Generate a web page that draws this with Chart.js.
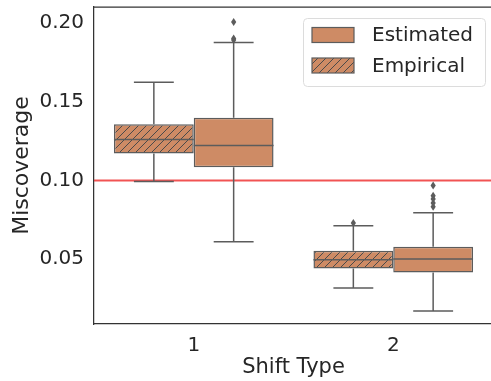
<!DOCTYPE html>
<html>
<head>
<meta charset="utf-8">
<script src="https://cdn.jsdelivr.net/npm/chart.js@4/dist/chart.umd.min.js"></script>
<style>
  html, body { margin: 0; padding: 0; background: #fff; overflow: hidden; }
  #wrap { width: 494px; height: 381px; }
</style>
</head>
<body>
<div id="wrap"><canvas id="chart" width="494" height="381"></canvas></div>
<script>
// Shift types on the x axis
const shiftTypes = ['1', '2'];

// Empirical miscoverage: box statistics per shift type
const empiricalQ1 = [0.1172, 0.0441];
const empiricalMedian = [0.1261, 0.0497];
const empiricalQ3 = [0.1357, 0.0554];
const empiricalLow = [0.0994, 0.0318];
const empiricalHigh = [0.1624, 0.0713];
const empiricalOutliers = [[], [0.0731]];

// Estimated miscoverage: box statistics per shift type
const estimatedQ1 = [0.1085, 0.0416];
const estimatedMedian = [0.1223, 0.0501];
const estimatedQ3 = [0.1399, 0.0580];
const estimatedLow = [0.0611, 0.0172];
const estimatedHigh = [0.1877, 0.0796];
const estimatedOutliers = [[0.1893, 0.1902, 0.2006], [0.0834, 0.0858, 0.0883, 0.0904, 0.0968]];

// Y axis ticks and the target miscoverage level
const yTicks = [0.05, 0.10, 0.15, 0.20];
const yTickLabels = ['0.05', '0.10', '0.15', '0.20'];
const targetLevel = 0.10;

const FILL = 'rgb(206,139,101)';
const EDGE = '#5c5c5c';
const TEXT = '#262626';
const FONT = "'DejaVu Sans', sans-serif";

// Diagonal hatch pattern for the empirical boxes
function hatchPattern() {
  const s = 8;
  const c = document.createElement('canvas');
  c.width = s; c.height = s;
  const g = c.getContext('2d');
  g.fillStyle = FILL;
  g.fillRect(0, 0, s, s);
  g.strokeStyle = '#4a4a4a';
  g.lineWidth = 1;
  g.beginPath();
  g.moveTo(0, s); g.lineTo(s, 0);
  g.moveTo(-s / 2, s / 2); g.lineTo(s / 2, -s / 2);
  g.moveTo(s / 2, s * 1.5); g.lineTo(s * 1.5, s / 2);
  g.stroke();
  return g.createPattern(c, 'repeat');
}
const hatch = hatchPattern();

const stats = [
  { q1: empiricalQ1, med: empiricalMedian, q3: empiricalQ3, lo: empiricalLow, hi: empiricalHigh, out: empiricalOutliers },
  { q1: estimatedQ1, med: estimatedMedian, q3: estimatedQ3, lo: estimatedLow, hi: estimatedHigh, out: estimatedOutliers }
];

// Horizontal reference line at the target level, under the boxes
const targetLine = {
  id: 'targetLine',
  beforeDatasetsDraw(chart) {
    const { ctx, chartArea, scales: { y } } = chart;
    const py = y.getPixelForValue(targetLevel);
    ctx.save();
    ctx.strokeStyle = 'rgba(238,40,40,0.8)';
    ctx.lineWidth = 2;
    ctx.beginPath();
    ctx.moveTo(chartArea.left, py);
    ctx.lineTo(chartArea.right, py);
    ctx.stroke();
    ctx.restore();
  }
};

// Whiskers, caps, medians and outlier diamonds on top of the bars
const boxParts = {
  id: 'boxParts',
  afterDatasetsDraw(chart) {
    const { ctx, scales: { y } } = chart;
    ctx.save();
    ctx.strokeStyle = EDGE;
    ctx.fillStyle = EDGE;
    ctx.lineWidth = 1.5;
    stats.forEach((s, di) => {
      const meta = chart.getDatasetMeta(di);
      meta.data.forEach((bar, i) => {
        const cx = bar.x;
        const half = bar.width / 2;
        const cap = bar.width / 4;
        const pq1 = y.getPixelForValue(s.q1[i]);
        const pq3 = y.getPixelForValue(s.q3[i]);
        const plo = y.getPixelForValue(s.lo[i]);
        const phi = y.getPixelForValue(s.hi[i]);
        const pmed = y.getPixelForValue(s.med[i]);
        ctx.beginPath();
        ctx.moveTo(cx, pq1); ctx.lineTo(cx, plo);
        ctx.moveTo(cx, pq3); ctx.lineTo(cx, phi);
        ctx.moveTo(cx - cap, plo); ctx.lineTo(cx + cap, plo);
        ctx.moveTo(cx - cap, phi); ctx.lineTo(cx + cap, phi);
        ctx.moveTo(cx - half, pmed); ctx.lineTo(cx + half, pmed);
        ctx.stroke();
        s.out[i].forEach(v => {
          const py = y.getPixelForValue(v);
          ctx.beginPath();
          ctx.moveTo(cx, py - 4);
          ctx.lineTo(cx + 2.6, py);
          ctx.lineTo(cx, py + 4);
          ctx.lineTo(cx - 2.6, py);
          ctx.closePath();
          ctx.fill();
        });
      });
    });
    ctx.restore();
  }
};

// Legend box in the upper right corner of the plot
const legendBox = {
  id: 'legendBox',
  afterDraw(chart) {
    const { ctx } = chart;
    const x = 303, yTop = 18, w = 182, h = 68, r = 4;
    ctx.save();
    ctx.fillStyle = 'rgba(255,255,255,0.85)';
    ctx.strokeStyle = '#dcdcdc';
    ctx.lineWidth = 1;
    ctx.beginPath();
    ctx.roundRect(x + 0.5, yTop + 0.5, w, h, r);
    ctx.fill();
    ctx.stroke();
    const items = [
      { label: 'Estimated', fill: FILL, cy: 35 },
      { label: 'Empirical', fill: hatch, cy: 65.5 }
    ];
    items.forEach(it => {
      ctx.fillStyle = it.fill;
      ctx.fillRect(312, it.cy - 7.5, 42, 15);
      ctx.strokeStyle = EDGE;
      ctx.lineWidth = 1.2;
      ctx.strokeRect(312, it.cy - 7.5, 42, 15);
      ctx.fillStyle = TEXT;
      ctx.font = '20px ' + FONT;
      ctx.textBaseline = 'middle';
      ctx.textAlign = 'left';
      ctx.fillText(it.label, 372, it.cy + 1);
    });
    ctx.restore();
  }
};

// Top spine of the axes frame
const topSpine = {
  id: 'topSpine',
  afterDraw(chart) {
    const { ctx, chartArea } = chart;
    ctx.save();
    ctx.strokeStyle = '#333';
    ctx.lineWidth = 1.25;
    ctx.beginPath();
    ctx.moveTo(chartArea.left, chartArea.top);
    ctx.lineTo(chart.width, chartArea.top);
    ctx.stroke();
    ctx.restore();
  }
};

const boxData = (q1, q3) => q1.map((v, i) => [v, q3[i]]);

new Chart(document.getElementById('chart'), {
  type: 'bar',
  data: {
    labels: shiftTypes,
    datasets: [
      {
        label: 'Empirical',
        data: boxData(empiricalQ1, empiricalQ3),
        backgroundColor: hatch,
        borderColor: EDGE,
        borderWidth: 1.5,
        borderSkipped: false,
        categoryPercentage: 0.8,
        barPercentage: 1.0
      },
      {
        label: 'Estimated',
        data: boxData(estimatedQ1, estimatedQ3),
        backgroundColor: FILL,
        borderColor: EDGE,
        borderWidth: 1.5,
        borderSkipped: false,
        categoryPercentage: 0.8,
        barPercentage: 1.0
      }
    ]
  },
  options: {
    responsive: false,
    animation: false,
    layout: { padding: { top: 7, right: 1, bottom: 0, left: 0 } },
    plugins: {
      legend: { display: false },
      tooltip: { enabled: false }
    },
    scales: {
      x: {
        grid: { display: false, drawTicks: false },
        border: { display: true, color: '#333', width: 1.25 },
        ticks: { color: TEXT, font: { family: FONT, size: 20 }, padding: 10 },
        title: {
          display: true, text: 'Shift Type', color: TEXT,
          font: { family: FONT, size: 21, lineHeight: 1 },
          padding: { top: 0, bottom: 3 }
        },
        afterFit(scale) {
          scale.height = 57;
          scale.paddingLeft = 0;
          scale.paddingRight = 0;
        }
      },
      y: {
        min: 0.0089,
        max: 0.2102,
        grid: { display: false, drawTicks: false },
        border: { display: true, color: '#333', width: 1.25 },
        ticks: {
          color: TEXT, font: { family: FONT, size: 20 }, padding: 10,
          callback: (v) => {
            const k = yTicks.findIndex(t => Math.abs(t - v) < 1e-9);
            return k >= 0 ? yTickLabels[k] : '';
          }
        },
        afterBuildTicks(scale) { scale.ticks = yTicks.map(v => ({ value: v })); },
        title: {
          display: true, text: 'Miscoverage', color: TEXT,
          font: { family: FONT, size: 22, lineHeight: 1 },
          padding: { top: 11, bottom: 0 }
        },
        afterFit(scale) {
          scale.width = 94;
          scale.paddingTop = 0;
          scale.paddingBottom = 0;
        }
      }
    }
  },
  plugins: [targetLine, boxParts, topSpine, legendBox]
});
</script>
</body>
</html>
